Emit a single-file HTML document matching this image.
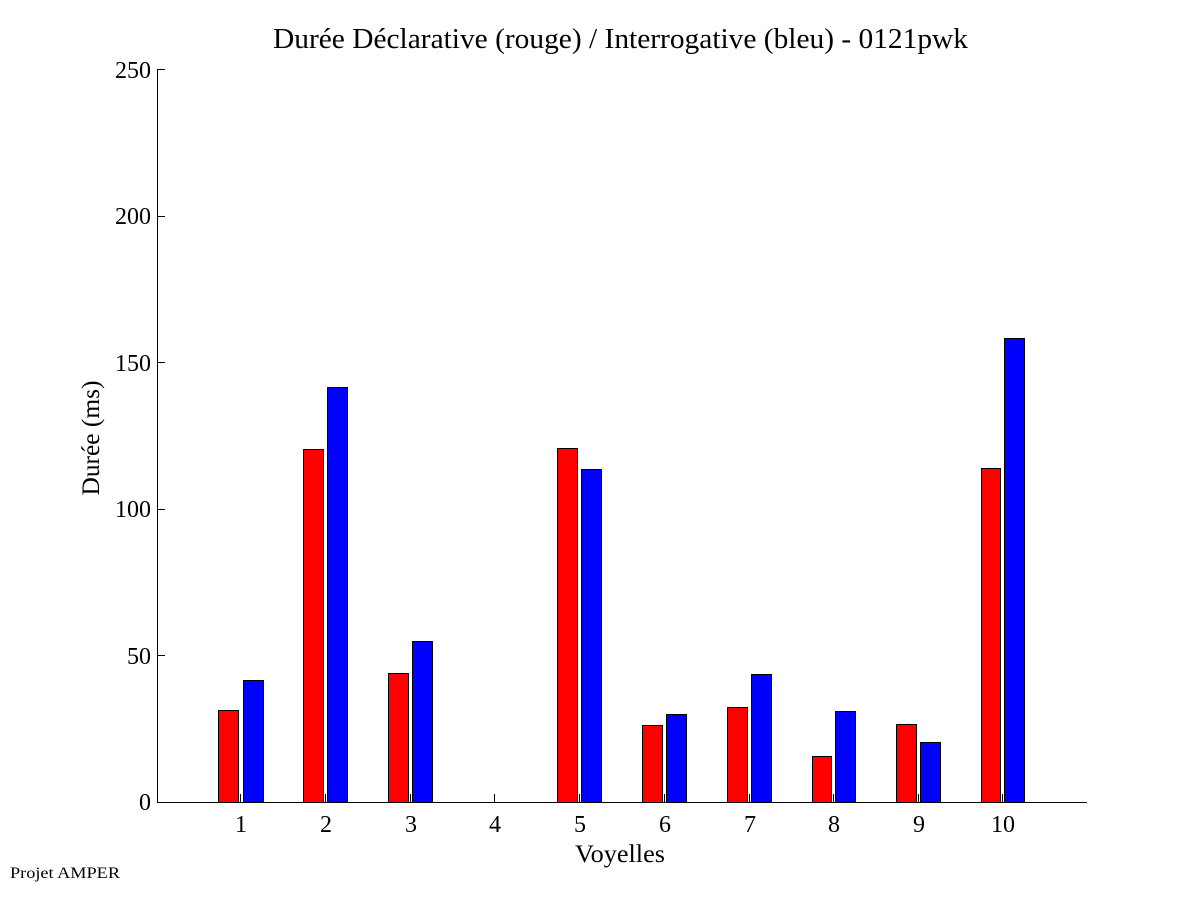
<!DOCTYPE html>
<html><head><meta charset="utf-8"><style>
body{margin:0;background:#fff;}
svg text{font-family:"Liberation Serif",serif;fill:#000;}
</style></head><body>
<svg width="1201" height="901" viewBox="0 0 1201 901" xmlns="http://www.w3.org/2000/svg">
<rect width="1201" height="901" fill="#fff"/>
<text x="273" y="48" font-size="28" textLength="695" lengthAdjust="spacingAndGlyphs">Durée Déclarative (rouge) / Interrogative (bleu) - 0121pwk</text>
<g stroke="#000" stroke-width="1" fill="none">
<line x1="157.5" y1="69" x2="157.5" y2="802.5"/>
<line x1="157" y1="802.5" x2="1087" y2="802.5"/>
<line x1="157" y1="69.5" x2="165" y2="69.5"/>
<line x1="157" y1="216.5" x2="165" y2="216.5"/>
<line x1="157" y1="362.5" x2="165" y2="362.5"/>
<line x1="157" y1="509.5" x2="165" y2="509.5"/>
<line x1="157" y1="655.5" x2="165" y2="655.5"/>
</g>
<g font-size="24" text-anchor="end">
<text x="151" y="78">250</text><text x="151" y="224">200</text><text x="151" y="371">150</text><text x="151" y="517">100</text><text x="151" y="664">50</text><text x="151" y="810">0</text>
</g>
<g stroke="#000" stroke-width="1">
<rect x="218.5" y="710.5" width="20" height="92" fill="#f00"/><rect x="243.5" y="680.5" width="20" height="122" fill="#00f"/>
<rect x="303.5" y="449.5" width="20" height="353" fill="#f00"/><rect x="327.5" y="387.5" width="20" height="415" fill="#00f"/>
<rect x="388.5" y="673.5" width="20" height="129" fill="#f00"/><rect x="412.5" y="641.5" width="20" height="161" fill="#00f"/>
<rect x="557.5" y="448.5" width="20" height="354" fill="#f00"/><rect x="581.5" y="469.5" width="20" height="333" fill="#00f"/>
<rect x="642.5" y="725.5" width="20" height="77" fill="#f00"/><rect x="666.5" y="714.5" width="20" height="88" fill="#00f"/>
<rect x="727.5" y="707.5" width="20" height="95" fill="#f00"/><rect x="751.5" y="674.5" width="20" height="128" fill="#00f"/>
<rect x="812.5" y="756.5" width="19" height="46" fill="#f00"/><rect x="835.5" y="711.5" width="20" height="91" fill="#00f"/>
<rect x="896.5" y="724.5" width="20" height="78" fill="#f00"/><rect x="920.5" y="742.5" width="20" height="60" fill="#00f"/>
<rect x="981.5" y="468.5" width="19" height="334" fill="#f00"/><rect x="1004.5" y="338.5" width="20" height="464" fill="#00f"/>
</g>
<g stroke="#000" stroke-width="1">
<line x1="240.5" y1="794" x2="240.5" y2="802"/><line x1="325.5" y1="794" x2="325.5" y2="802"/><line x1="410.5" y1="794" x2="410.5" y2="802"/><line x1="494.5" y1="794" x2="494.5" y2="802"/><line x1="579.5" y1="794" x2="579.5" y2="802"/><line x1="664.5" y1="794" x2="664.5" y2="802"/><line x1="749.5" y1="794" x2="749.5" y2="802"/><line x1="833.5" y1="794" x2="833.5" y2="802"/><line x1="918.5" y1="794" x2="918.5" y2="802"/><line x1="1002.5" y1="794" x2="1002.5" y2="802"/>
</g>
<g font-size="24" text-anchor="middle">
<text x="241" y="832">1</text><text x="326" y="832">2</text><text x="411" y="832">3</text><text x="495" y="832">4</text><text x="580" y="832">5</text><text x="665" y="832">6</text><text x="750" y="832">7</text><text x="834" y="832">8</text><text x="919" y="832">9</text><text x="1003" y="832">10</text>
</g>
<text x="620" y="862" font-size="25" text-anchor="middle" textLength="90" lengthAdjust="spacingAndGlyphs">Voyelles</text>
<text transform="translate(99,438) rotate(-90)" font-size="25" text-anchor="middle" textLength="115" lengthAdjust="spacingAndGlyphs">Durée (ms)</text>
<text x="10" y="878" font-size="16" textLength="110" lengthAdjust="spacingAndGlyphs">Projet AMPER</text>
</svg>
</body></html>
